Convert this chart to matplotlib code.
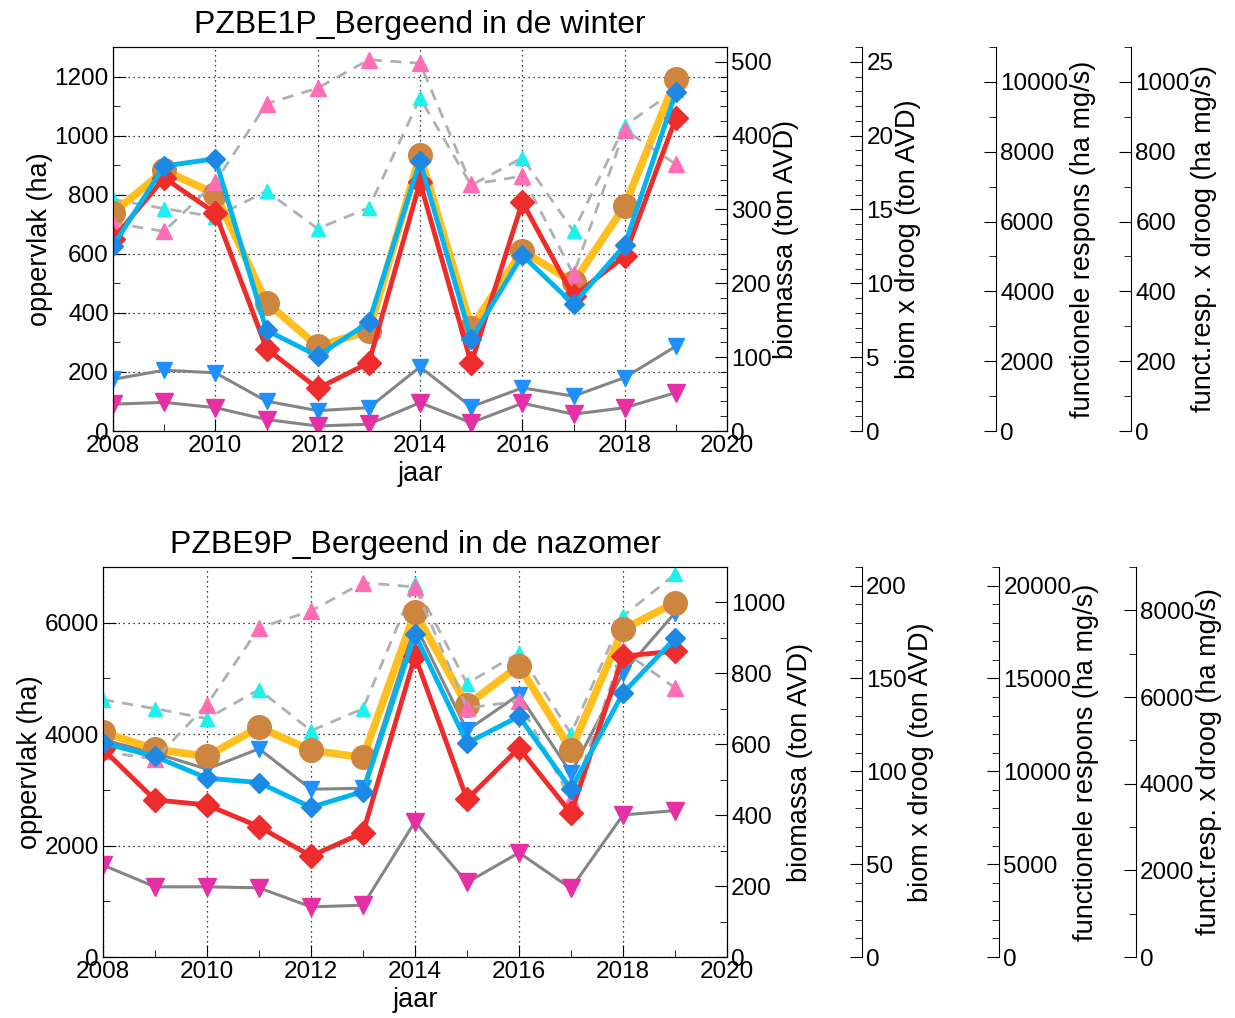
import matplotlib
matplotlib.use('Agg')
import matplotlib.pyplot as plt
from matplotlib.ticker import MultipleLocator

plt.rcParams['font.family'] = ['Liberation Sans', 'DejaVu Sans']

jaren = list(range(2008, 2020))

winter_oranje = [738, 882, 803, 435, 287, 338, 935, 350, 610, 503, 762, 1192]
winter_blauw = [626, 897, 922, 341, 254, 368, 914, 311, 595, 429, 629, 1147]
winter_rood = [650, 857, 738, 279, 144, 231, 843, 229, 775, 456, 592, 1060]
winter_cyaan = [784, 753, 725, 812, 685, 756, 1127, 832, 925, 676, 1034, 1155]
winter_roze = [704, 676, 843, 1108, 1161, 1257, 1245, 835, 863, 530, 1020, 903]
winter_grijs_blauw = [175, 206, 197, 101, 69, 79, 217, 82, 146, 118, 181, 287]
winter_grijs_magenta = [91, 97, 79, 39, 17, 23, 96, 28, 94, 57, 79, 130]

# PZBE9P - nazomer
nazomer_oranje = [4032, 3732, 3600, 4128, 3708, 3582, 6192, 4518, 5232, 3720, 5880, 6360]
nazomer_blauw = [3840, 3600, 3210, 3132, 2688, 2970, 5790, 3840, 4320, 3012, 4740, 5718]
nazomer_rood = [3732, 2820, 2730, 2340, 1812, 2232, 5400, 2832, 3750, 2580, 5400, 5490]
nazomer_cyaan = [4620, 4458, 4278, 4800, 4062, 4458, 6690, 4908, 5460, 4008, 6120, 6870]
nazomer_roze = [3690, 3552, 4530, 5910, 6210, 6720, 6642, 4470, 4590, 2820, 5500, 4830]
nazomer_grijs_blauw = [3900, 3660, 3372, 3738, 3012, 3030, 5970, 4068, 4710, 3300, 5100, 6180]
nazomer_grijs_magenta = [1650, 1260, 1260, 1242, 900, 930, 2430, 1338, 1872, 1230, 2550, 2628]

titels = ['PZBE1P_Bergeend in de winter', 'PZBE9P_Bergeend in de nazomer']
as_labels = ['biomassa (ton AVD)', 'biom x droog (ton AVD)',
             'functionele respons (ha mg/s)', 'funct.resp. x droog (ha mg/s)']

FS = 17.5   # tick labels
LS = 19.5   # as-titels

fig = plt.figure(figsize=(12.35, 10.18), dpi=100)


def teken(ax, oranje, blauw, rood, cyaan, roze, grijs_blauw, grijs_magenta):
    dash = (0, (4, 3))
    ax.plot(jaren, cyaan, color='#b0b0b0', ls=dash, lw=2, marker='^', ms=10,
            mfc='#1ef0f0', mec='#1ef0f0', zorder=3)
    ax.plot(jaren, grijs_blauw, color='#858585', lw=2.2, marker='v', ms=11,
            mfc='#1e90ff', mec='#1e90ff', zorder=3)
    ax.plot(jaren, grijs_magenta, color='#858585', lw=2.2, marker='v', ms=13,
            mfc='#e62ea5', mec='#e62ea5', zorder=3)
    ax.plot(jaren, oranje, color='#ffbf1f', lw=5.5, marker='o', ms=17,
            mfc='#cd853f', mec='#cd853f', zorder=4)
    ax.plot(jaren, roze, color='#b0b0b0', ls=dash, lw=2, marker='^', ms=12,
            mfc='#ff6eb4', mec='#ff6eb4', zorder=5)
    ax.plot(jaren, rood, color='#ee2c2c', lw=3.5, marker='D', ms=12,
            mfc='#ee2c2c', mec='#ee2c2c', zorder=6)
    ax.plot(jaren, blauw, color='#00b4f0', lw=3.5, marker='D', ms=10,
            mfc='#1e88e5', mec='#1e88e5', zorder=7)


def opmaak(ax, titel, ytop, ymaj, ymin, rechts, spines):
    ax.set_xlim(2008, 2020)
    ax.set_ylim(0, ytop)
    ax.xaxis.set_major_locator(MultipleLocator(2))
    ax.xaxis.set_minor_locator(MultipleLocator(1))
    ax.yaxis.set_major_locator(MultipleLocator(ymaj))
    ax.yaxis.set_minor_locator(MultipleLocator(ymin))
    ax.tick_params(which='both', direction='in', labelsize=FS, pad=3)
    ax.tick_params(which='major', length=9)
    ax.tick_params(which='minor', length=5)
    ax.tick_params(axis='x', which='both', top=False)
    ax.grid(True, which='major', color='black', ls=(0, (1, 3)), lw=0.9)
    ax.set_title(titel, fontsize=23, pad=10)
    ax.set_xlabel('jaar', fontsize=LS, labelpad=3)
    ax.set_ylabel('oppervlak (ha)', fontsize=LS, labelpad=1)

    for i, (top, maj, mnr) in enumerate(rechts):
        tw = ax.twinx()
        tw.set_ylim(0, top)
        tw.yaxis.set_major_locator(MultipleLocator(maj))
        tw.yaxis.set_minor_locator(MultipleLocator(mnr))
        tw.tick_params(which='both', direction='in', labelsize=FS, pad=3)
        tw.tick_params(which='major', length=9)
        tw.tick_params(which='minor', length=5)
        tw.set_ylabel(as_labels[i], fontsize=LS, labelpad=1)
        if i > 0:
            for s in ['left', 'top', 'bottom']:
                tw.spines[s].set_visible(False)
            tw.spines['right'].set_position(('axes', spines[i - 1]))
            tw.patch.set_visible(False)


ax1 = fig.add_axes([0.0915, 0.5766, 0.4972, 0.3772])
teken(ax1, winter_oranje, winter_blauw, winter_rood, winter_cyaan, winter_roze,
      winter_grijs_blauw, winter_grijs_magenta)
opmaak(ax1, titels[0], 1300, 200, 100,
       [(520, 100, 20), (26, 5, 1), (11000, 2000, 1000), (1100, 200, 100)],
       [1.220, 1.438, 1.658])

ax2 = fig.add_axes([0.0834, 0.0599, 0.5053, 0.3831])
teken(ax2, nazomer_oranje, nazomer_blauw, nazomer_rood, nazomer_cyaan, nazomer_roze,
      nazomer_grijs_blauw, nazomer_grijs_magenta)
opmaak(ax2, titels[1], 7000, 2000, 1000,
       [(1100, 200, 100), (210, 50, 10), (21000, 5000, 1000), (9000, 2000, 1000)],
       [1.216, 1.436, 1.655])

fig.savefig('out.png', dpi=100)
